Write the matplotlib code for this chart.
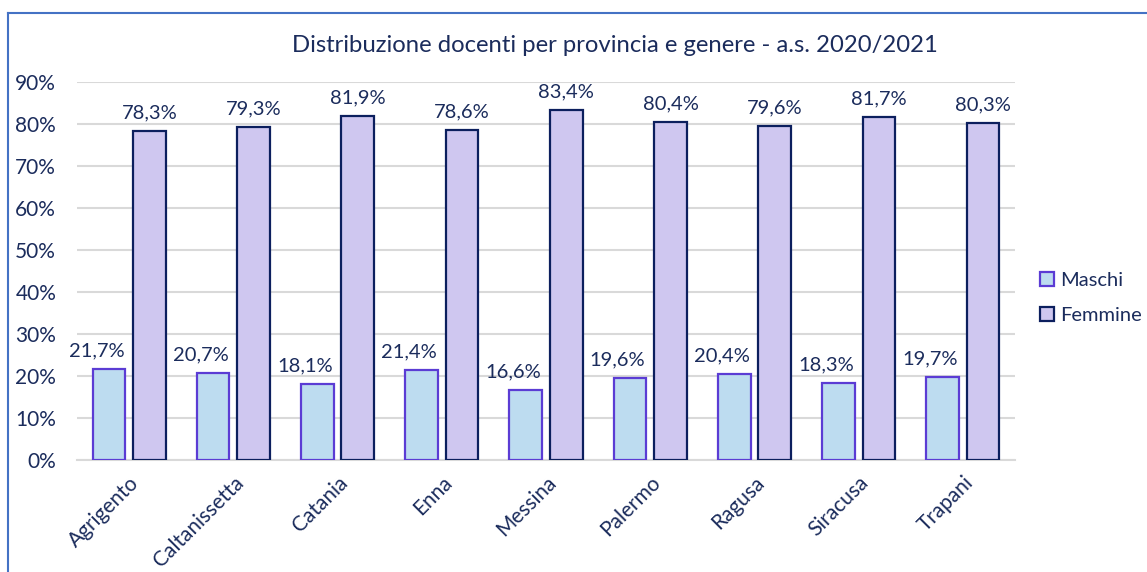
import matplotlib
matplotlib.use("Agg")
import matplotlib.pyplot as plt
from matplotlib.lines import Line2D
from matplotlib.patches import Patch
import numpy as np

plt.rcParams['font.family'] = ['Lato', 'DejaVu Sans']

province = ["Agrigento", "Caltanissetta", "Catania", "Enna", "Messina",
            "Palermo", "Ragusa", "Siracusa", "Trapani"]
maschi = [21.7, 20.7, 18.1, 21.4, 16.6, 19.6, 20.4, 18.3, 19.7]
femmine = [78.3, 79.3, 81.9, 78.6, 83.4, 80.4, 79.6, 81.7, 80.3]
yticks = [0, 10, 20, 30, 40, 50, 60, 70, 80, 90]
title = "Distribuzione docenti per provincia e genere - a.s. 2020/2021"

navy = "#1B2C5C"
W, H = 1147, 572
fig = plt.figure(figsize=(W / 100, H / 100), dpi=100)
ax = fig.add_axes([77 / W, 1 - 460 / H, (1015 - 77) / W, (460 - 82) / H])

x = np.arange(len(province))
bw = 0.313
off = 0.194
ax.bar(x - off, maschi, bw, color="#BDDCF0", edgecolor="#5B3CD4", linewidth=1.6,
       label="Maschi", zorder=3)
ax.bar(x + off, femmine, bw, color="#CFC7F0", edgecolor="#0C1F5E", linewidth=1.6,
       label="Femmine", zorder=3)

for xi, v in zip(x, maschi):
    ax.annotate(f"{v:.1f}%".replace(".", ","), (xi - off, v), xytext=(-9, 7),
                textcoords="offset points", ha="center", va="bottom",
                fontsize=14.5, color=navy)
for xi, v in zip(x, femmine):
    ax.annotate(f"{v:.1f}%".replace(".", ","), (xi + off, v), xytext=(0, 7),
                textcoords="offset points", ha="center", va="bottom",
                fontsize=14.5, color=navy)

ax.set_xlim(-0.5, len(province) - 0.5)
ax.set_ylim(0, 90)
ax.set_yticks(yticks)
ax.set_yticklabels([f"{t}%" for t in yticks], fontsize=15, color=navy)
ax.set_xticks(x)
ax.set_xticklabels(province, rotation=45, ha="right", rotation_mode="anchor",
                   fontsize=15, color=navy)
ax.tick_params(axis="both", length=0)
ax.tick_params(axis="y", pad=15)
ax.tick_params(axis="x", pad=9)
ax.grid(axis="y", color="#D9D9D9", linewidth=1.5, zorder=0)
for s in ["top", "right", "left"]:
    ax.spines[s].set_visible(False)
ax.spines["bottom"].set_color("#D9D9D9")
ax.spines["bottom"].set_linewidth(1.5)

fig.text(615 / W, 1 - 45 / H, title, ha="center", va="center", fontsize=17.2, color=navy)

handles = [Patch(facecolor="#BDDCF0", edgecolor="#5B3CD4", linewidth=1.6, label="Maschi"),
           Patch(facecolor="#CFC7F0", edgecolor="#0C1F5E", linewidth=1.6, label="Femmine")]
fig.legend(handles=handles, loc="center left", bbox_to_anchor=(1022 / W, 1 - 298 / H),
           frameon=False, fontsize=14.5, handlelength=0.7, handleheight=0.7,
           handletextpad=0.3, labelspacing=0.85, labelcolor=navy)

fig.add_artist(Line2D([8 / W, 1], [1 - 13 / H, 1 - 13 / H], transform=fig.transFigure,
                      color="#4472C4", linewidth=1.5))
fig.add_artist(Line2D([8 / W, 8 / W], [0, 1 - 13 / H], transform=fig.transFigure,
                      color="#4472C4", linewidth=1.5))

fig.savefig("out.png", dpi=100, facecolor="white")
